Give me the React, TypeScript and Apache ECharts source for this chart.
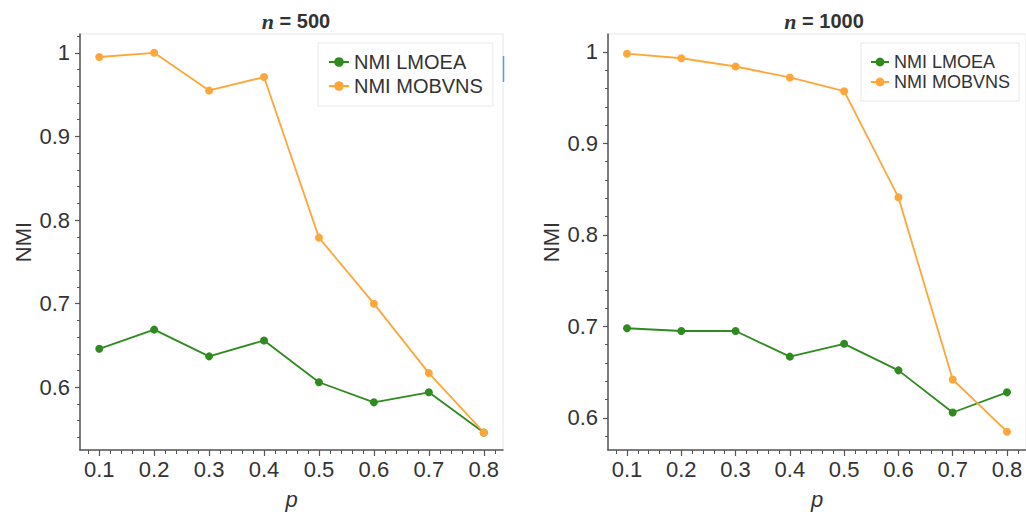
import React, { useEffect, useRef } from "react";
import * as echarts from "echarts";

const pValues = [0.1, 0.2, 0.3, 0.4, 0.5, 0.6, 0.7, 0.8];
const lmoea500 = [0.646, 0.669, 0.637, 0.656, 0.606, 0.582, 0.594, 0.546];
const mobvns500 = [0.995, 1.0, 0.955, 0.971, 0.779, 0.7, 0.617, 0.546];
const lmoea1000 = [0.698, 0.695, 0.695, 0.667, 0.681, 0.652, 0.606, 0.628];
const mobvns1000 = [0.998, 0.993, 0.984, 0.972, 0.957, 0.841, 0.642, 0.585];
const seriesNames = ["NMI LMOEA", "NMI MOBVNS"];
const titles = ["500", "1000"];
const xTickValues = [0.1, 0.2, 0.3, 0.4, 0.5, 0.6, 0.7, 0.8];
const yTickValues500 = [0.6, 0.7, 0.8, 0.9, 1.0];
const yTickValues1000 = [0.6, 0.7, 0.8, 0.9, 1.0];

const GREEN = "#2f8a1f";
const ORANGE = "#ffa63a";
const AXIS = "#555";
const TEXT = "#333";
const FONT = "Liberation Sans, Arial, sans-serif";

function pairs(xs: number[], ys: number[]) {
  return xs.map((x, i) => [x, ys[i]]);
}

// minor tick positions every 0.02 inside [lo, hi], skipping the major ones
function minorValues(lo: number, hi: number) {
  const out: number[] = [];
  for (let k = Math.ceil(lo * 50); k <= Math.floor(hi * 50); k++) {
    if (k % 5 !== 0) out.push(Math.round(k * 2) / 100);
  }
  return out;
}

const X_MIN = 0.065;
const X_MAX = 0.835;

function xAxisMajor(gridIndex: number) {
  return {
    type: "value",
    gridIndex,
    min: X_MIN,
    max: X_MAX,
    position: "bottom",
    name: "p",
    nameLocation: "middle",
    nameGap: 38,
    nameTextStyle: { fontFamily: FONT, fontSize: 22, fontStyle: "italic", color: TEXT },
    axisLine: { show: true, lineStyle: { color: AXIS, width: 1.5 } },
    axisTick: { show: true, length: 6, customValues: xTickValues, lineStyle: { color: AXIS, width: 1.2 } },
    splitLine: { show: false },
    axisLabel: {
      customValues: xTickValues,
      margin: 8,
      fontFamily: FONT,
      fontSize: 22,
      color: TEXT,
      formatter: (v: number) => v.toFixed(1),
    },
  };
}

function xAxisMinor(gridIndex: number) {
  return {
    type: "value",
    gridIndex,
    min: X_MIN,
    max: X_MAX,
    position: "bottom",
    axisLine: { show: false },
    axisTick: { show: true, length: 4, customValues: minorValues(X_MIN, X_MAX), lineStyle: { color: AXIS, width: 1 } },
    splitLine: { show: false },
    axisLabel: { show: false },
  };
}

function yAxisMajor(gridIndex: number, min: number, max: number, ticks: number[]) {
  return {
    type: "value",
    gridIndex,
    min,
    max,
    position: "left",
    name: "NMI",
    nameLocation: "middle",
    nameGap: 46,
    nameTextStyle: { fontFamily: FONT, fontSize: 22, color: TEXT },
    axisLine: { show: true, lineStyle: { color: AXIS, width: 1.5 } },
    axisTick: { show: true, length: 5, customValues: ticks, lineStyle: { color: AXIS, width: 1.2 } },
    splitLine: { show: false },
    axisLabel: {
      customValues: ticks,
      margin: 10,
      fontFamily: FONT,
      fontSize: 22,
      color: TEXT,
      formatter: (v: number) => (Math.abs(v - 1) < 1e-9 ? "1" : v.toFixed(1)),
    },
  };
}

function yAxisMinor(gridIndex: number, min: number, max: number) {
  return {
    type: "value",
    gridIndex,
    min,
    max,
    position: "left",
    offset: 0,
    axisLine: { show: false },
    axisTick: { show: true, length: 3, customValues: minorValues(min, max), lineStyle: { color: AXIS, width: 1 } },
    splitLine: { show: false },
    axisLabel: { show: false },
  };
}

function lineSeries(name: string, color: string, idx: number, data: number[][]) {
  return {
    type: "line",
    name,
    xAxisIndex: idx * 2,
    yAxisIndex: idx * 2,
    data,
    symbol: "circle",
    symbolSize: 8,
    color,
    itemStyle: { color },
    lineStyle: { color, width: 1.8 },
  };
}

function titleCfg(n: string, centerX: number) {
  return {
    text: `{i|n}{b| = ${n}}`,
    left: centerX,
    top: 5,
    textAlign: "center",
    textStyle: {
      rich: {
        i: { fontFamily: "Liberation Serif, serif", fontStyle: "italic", fontWeight: "bold", fontSize: 22, color: TEXT },
        b: { fontFamily: FONT, fontWeight: "bold", fontSize: 20, color: TEXT },
      },
    },
  };
}

export default function App() {
  const ref = useRef<HTMLDivElement>(null);
  useEffect(() => {
    if (!ref.current) return;
    const chart = echarts.init(ref.current, null, { renderer: "svg" });
    chart.setOption({
      animation: false,
      backgroundColor: "#fff",
      title: [titleCfg(titles[0], 291), titleCfg(titles[1], 819)],
      grid: [
        { left: 80, top: 34, width: 423, height: 418, show: true, borderColor: "#e6e6e6", borderWidth: 1 },
        { left: 608, top: 34, width: 423, height: 418, show: true, borderColor: "#e6e6e6", borderWidth: 1 },
      ],
      xAxis: [xAxisMajor(0), xAxisMinor(0), xAxisMajor(1), xAxisMinor(1)],
      yAxis: [
        yAxisMajor(0, 0.525, 1.0225, yTickValues500),
        yAxisMinor(0, 0.525, 1.0225),
        yAxisMajor(1, 0.565, 1.0195, yTickValues1000),
        yAxisMinor(1, 0.565, 1.0195),
      ],
      legend: [
        {
          orient: "vertical",
          left: 318,
          top: 43,
          data: seriesNames,
          padding: [9, 10, 10, 10],
          itemGap: 4,
          itemWidth: 20,
          itemHeight: 12,
          backgroundColor: "#fff",
          borderColor: "#e8e8e8",
          borderWidth: 1,
          textStyle: { fontFamily: FONT, fontSize: 20, color: TEXT },
        },
        {
          orient: "vertical",
          left: 861,
          top: 43,
          data: seriesNames,
          padding: [10, 9, 10, 9],
          itemGap: 2,
          itemWidth: 18,
          itemHeight: 11,
          backgroundColor: "#fff",
          borderColor: "#e8e8e8",
          borderWidth: 1,
          textStyle: { fontFamily: FONT, fontSize: 18, color: TEXT },
        },
      ],
      graphic: [
        {
          type: "line",
          shape: { x1: 503.5, y1: 56, x2: 503.5, y2: 82 },
          style: { stroke: "#4aa3e8", lineWidth: 1.5 },
          z: 100,
        },
      ],
      series: [
        lineSeries(seriesNames[0], GREEN, 0, pairs(pValues, lmoea500)),
        lineSeries(seriesNames[1], ORANGE, 0, pairs(pValues, mobvns500)),
        lineSeries(seriesNames[0], GREEN, 1, pairs(pValues, lmoea1000)),
        lineSeries(seriesNames[1], ORANGE, 1, pairs(pValues, mobvns1000)),
      ],
    });
    return () => chart.dispose();
  }, []);
  return (
    <div
      ref={ref}
      style={{ position: "absolute", left: 0, top: 0, width: 1026, height: 515 }}
    />
  );
}
